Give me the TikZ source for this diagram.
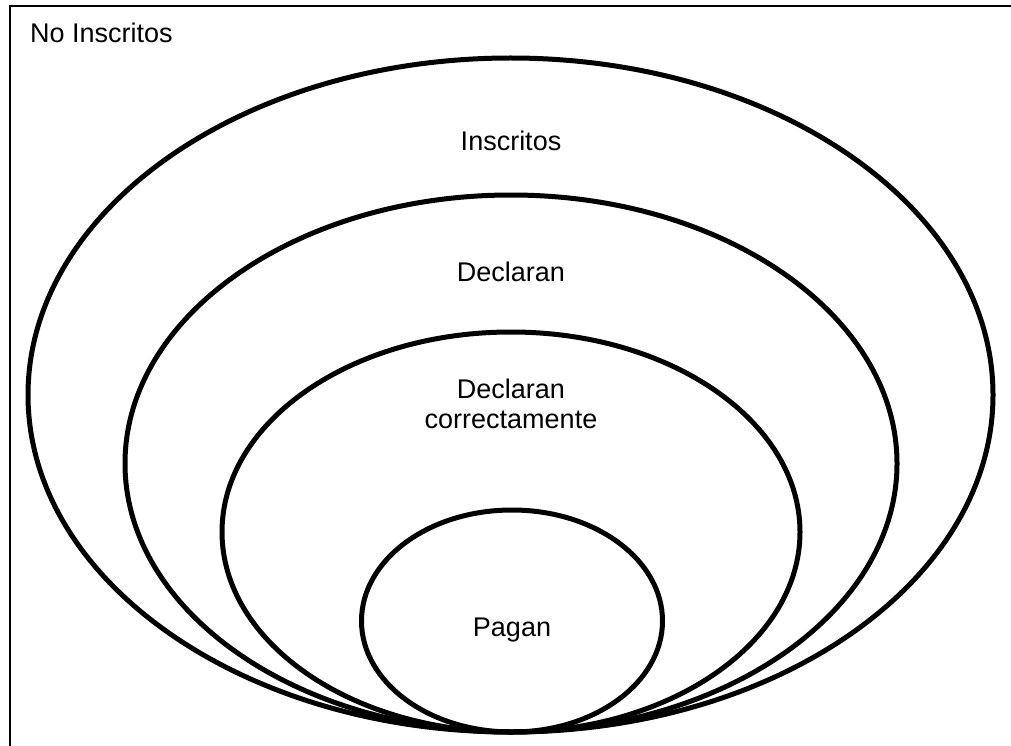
\documentclass[tikz,border=0pt]{standalone}
\usepackage{fontspec}
\setmainfont{Liberation Sans}
\usetikzlibrary{shapes.geometric}
\begin{document}
\begin{tikzpicture}[x=1pt,y=-1pt,
  setell/.style={draw, ellipse, line width=5pt, inner sep=0pt, outer sep=0pt},
  lbl/.style={font=\fontsize{27}{30}\selectfont, align=center, inner sep=0pt},
  frame/.style={draw, line width=2pt}]
\clip (0,0) rectangle (1011,746);
\draw[frame] (10,6) rectangle (1040,780);
\node[lbl, anchor=base west] (noins) at (30,43) {No Inscritos};
\node[setell, minimum width=965pt, minimum height=674pt] (insc) at (510.5,395) {};
\node[setell, minimum width=772pt, minimum height=537pt] (decl) at (511,463.5) {};
\node[setell, minimum width=578pt, minimum height=400pt] (corr) at (511,532) {};
\node[setell, minimum width=301pt, minimum height=222pt] (pag) at (512,621) {};
\node[lbl, anchor=base] (tinsc) at (511,151) {Inscritos};
\node[lbl, anchor=base] (tdecl) at (511,281) {Declaran};
\node[lbl] (tcorr) at (511,404) {Declaran\\correctamente};
\node[lbl, anchor=base] (tpag) at (512,636) {Pagan};
\end{tikzpicture}
\end{document}
